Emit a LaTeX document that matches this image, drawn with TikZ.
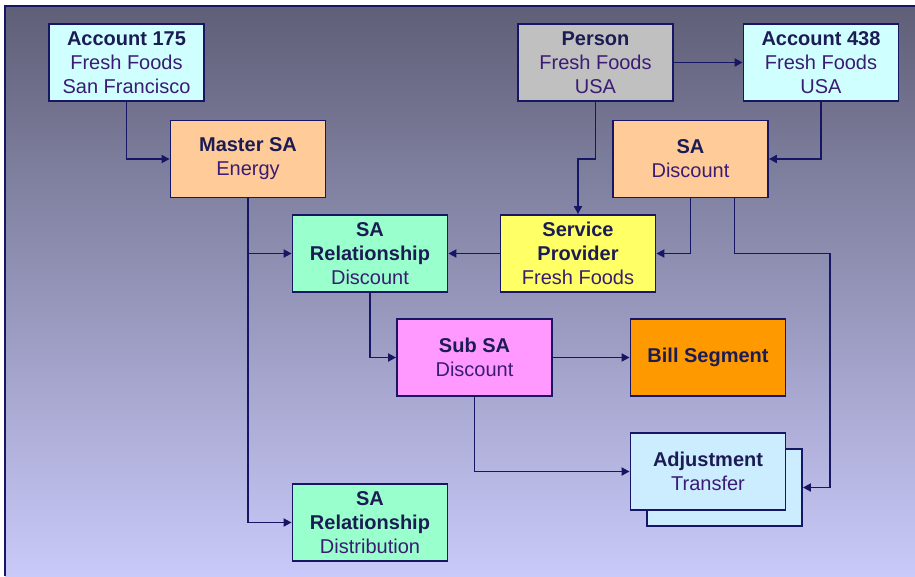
\documentclass[tikz,border=0pt]{standalone}
\usepackage{fontspec}
\setmainfont{Liberation Sans}
\usetikzlibrary{arrows.meta}
\definecolor{navy}{RGB}{22,22,100}
\definecolor{ttlc}{RGB}{28,28,85}
\definecolor{subc}{RGB}{58,28,115}
\definecolor{bgtop}{RGB}{95,95,120}
\definecolor{bgbot}{RGB}{202,202,250}
\definecolor{acct}{RGB}{208,255,255}
\definecolor{peach}{RGB}{255,204,153}
\definecolor{mint}{RGB}{153,255,204}
\definecolor{grayb}{RGB}{192,192,192}
\definecolor{yel}{RGB}{255,255,102}
\definecolor{pink}{RGB}{255,153,255}
\definecolor{orng}{RGB}{255,153,0}
\definecolor{adjc}{RGB}{204,236,255}
\newcommand{\ttl}[1]{\textcolor{ttlc}{\textbf{#1}}}
\newcommand{\sbt}[1]{\textcolor{subc}{#1}}
\begin{document}
\begin{tikzpicture}[x=1pt,y=-1pt,
  boxstyle/.style={draw=navy, line width=1.8pt, minimum width=155pt, minimum height=77pt,
    inner sep=0pt, align=center, font=\fontsize{20}{24}\selectfont},
  arr/.style={draw=navy, line width=1.8pt, -{Triangle[length=8pt,width=8pt]}}]
\useasboundingbox (0,0) rectangle (915,576);
\fill[white] (0,0) rectangle (915,576);
\shade[top color=bgtop, bottom color=bgbot] (5,6) rectangle (915,576);
\draw[navy, line width=1.8pt] (5,576) -- (5,6) -- (915,6);

\node[boxstyle, fill=acct] (a175) at (126.5,62.5) {\ttl{Account 175}\\\sbt{Fresh Foods}\\\sbt{San Francisco}};
\node[boxstyle, fill=peach] (master) at (248,159) {\ttl{Master SA}\\\sbt{Energy}};
\node[boxstyle, fill=mint] (relD) at (370,253.5) {\ttl{SA}\\\ttl{Relationship}\\\sbt{Discount}};
\node[boxstyle, fill=grayb] (person) at (595.5,62.5) {\ttl{Person}\\\sbt{Fresh Foods}\\\sbt{USA}};
\node[boxstyle, fill=acct] (a438) at (821,62.5) {\ttl{Account 438}\\\sbt{Fresh Foods}\\\sbt{USA}};
\node[boxstyle, fill=peach] (sadisc) at (690.5,159) {\ttl{SA}\\\sbt{Discount}};
\node[boxstyle, fill=yel] (sp) at (578,253.5) {\ttl{Service}\\\ttl{Provider}\\\sbt{Fresh Foods}};
\node[boxstyle, fill=pink] (sub) at (474.5,357.5) {\ttl{Sub SA}\\\sbt{Discount}};
\node[boxstyle, fill=orng] (bill) at (708,357.5) {\ttl{Bill Segment}};
\node[boxstyle, fill=adjc] (adjb) at (724.5,487.5) {};
\node[boxstyle, fill=adjc] (adjf) at (708,471.5) {\ttl{Adjustment}\\\sbt{Transfer}};
\node[boxstyle, fill=mint] (relDist) at (370,522.5) {\ttl{SA}\\\ttl{Relationship}\\\sbt{Distribution}};

\coordinate (k1) at (830,253.5);
\coordinate (k2) at (578,159);

\draw[arr] (a175.south) |- (master.west);
\draw[arr] (master.south) |- (relD.west);
\draw[arr] (master.south) |- (relDist.west);
\draw[arr] (person.south) |- (k2) -- (sp.north);
\draw[arr] (person.east) -- (a438.west);
\draw[arr] (a438.south) |- (sadisc.east);
\draw[arr] (sadisc.south) |- (sp.east);
\draw[arr] ([xshift=44pt]sadisc.south) |- (k1) |- (adjb.east);
\draw[arr] (sp.west) -- (relD.east);
\draw[arr] (relD.south) |- (sub.west);
\draw[arr] (sub.east) -- (bill.west);
\draw[arr] (sub.south) |- (adjf.west);
\end{tikzpicture}
\end{document}
